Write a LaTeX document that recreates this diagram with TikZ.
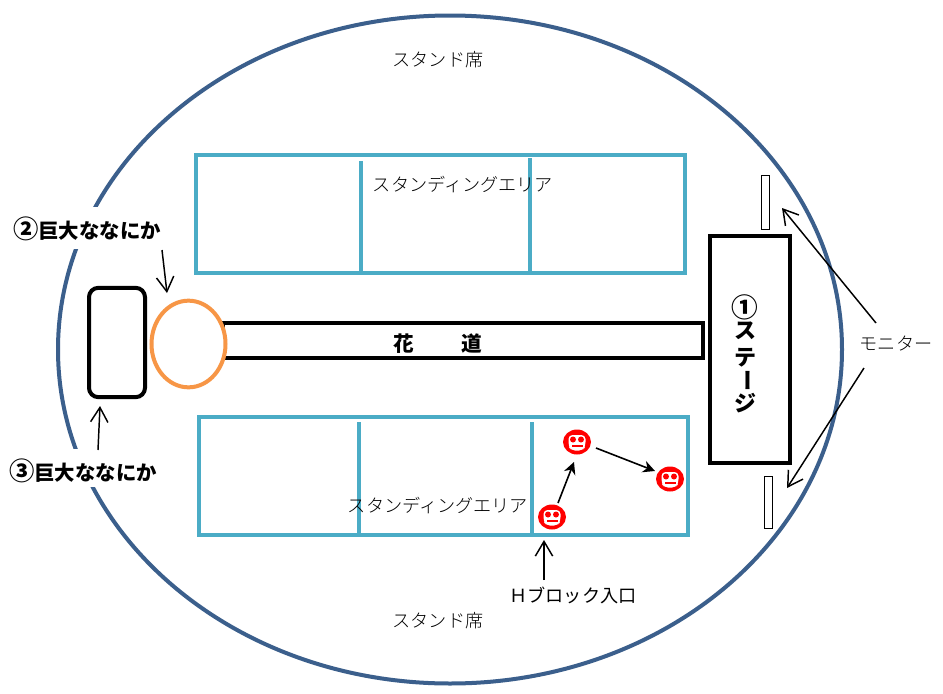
\documentclass[tikz,border=0pt]{standalone}
\usepackage{fontspec}
\setmainfont{Noto Sans CJK JP}
\newfontfamily\thinjp{Noto Sans CJK JP Light}
\usetikzlibrary{arrows.meta,shapes.geometric}
\definecolor{oval}{HTML}{3B5F8C}
\definecolor{teal2}{HTML}{4BACC6}
\definecolor{orng}{HTML}{F79646}
\newcommand{\pxfont}[1]{\fontsize{#1}{#1}\selectfont}
\newcommand{\bignum}[1]{{\pxfont{19}#1}}
\tikzset{
  x=0.75pt,y=-0.75pt,
  thinlabel/.style={inner sep=0pt,font=\thinjp\pxfont{13.6}},
  boldlabel/.style={inner sep=0pt,font=\pxfont{15.3}\bfseries},
  stagelabel/.style={inner sep=0pt,font=\pxfont{16.5}\bfseries},
  field/.style={draw=teal2,line width=3pt,miter limit=10},
  heavy/.style={draw=black,line width=3pt},
  openarrow/.style={draw=black,line width=1.1pt,-{Straight Barb[length=11pt,width=13pt,line width=1.1pt]}},
  walk/.style={draw=black,line width=1.2pt,-{Stealth[length=9pt,width=9pt]}},
  monitor/.style={draw=black,line width=0.6pt,fill=white,inner sep=0pt},
  face/.pic={
    \fill[red] (0,0) ellipse [x radius=14,y radius=12.5];
    \fill[white,rounded corners=3pt] (-8.5,-7) -- (8.5,-7) -- (8.5,4) -- (6,8.5) -- (-6,8.5) -- (-8.5,4) -- cycle;
    \fill[red] (-5.5,2.5) rectangle (5.5,5);
    \fill[red] (-4,-2.5) circle [radius=3] (4,-2.5) circle [radius=3];
  }
}
\begin{document}
\begin{tikzpicture}
\useasboundingbox (0,0) rectangle (943,693);
\fill[white] (0,0) rectangle (943,693);
\draw[oval,line width=3pt] (450,349.5) ellipse [x radius=392,y radius=334];
\fill[white] (8,207) rectangle (166,249);
\fill[white] (4,449) rectangle (160,487);
\node[boldlabel] (l2) at (87,229) {\bignum{②}巨大ななにか};
\node[boldlabel] (l3) at (83,471) {\bignum{③}巨大ななにか};
\node[thinlabel] (s1) at (438,60) {スタンド席};
\node[thinlabel] (s2) at (438,621) {スタンド席};
% standing areas
\draw[field] (196,155) rectangle (685,273);
\draw[field] (361,161) -- (361,273);
\draw[field] (530,158) -- (530,273);
\draw[field] (199,417) rectangle (688,535);
\draw[field] (359,422) -- (359,535);
\draw[field] (532,422) -- (532,535);
\node[thinlabel] (a1) at (463,184) {スタンディングエリア};
\node[thinlabel] (a2) at (438,505) {スタンディングエリア};
% runway, stage
\node[heavy,minimum width=360pt,minimum height=26pt,inner sep=0pt] (run) at (463,340.5) {};
\node[boldlabel,font=\pxfont{15.5}\bfseries] (h1) at (404,344) {花};
\node[boldlabel,font=\pxfont{15.5}\bfseries] (h2) at (472,344) {道};
\node[heavy,fill=white,minimum width=60pt,minimum height=170pt,inner sep=0pt] (stage) at (750,349.5) {};
\node[stagelabel,font=\pxfont{20}\bfseries] at (745,307) {①};
\node[stagelabel] at (745,331) {ス};
\node[stagelabel] at (745,358) {テ};
\node[stagelabel,rotate=-90] at (745,380) {ー};
\node[stagelabel] at (745,403) {ジ};
% objects on left
\node[heavy,rounded corners=7pt,minimum width=42pt,minimum height=82pt,inner sep=0pt] (box) at (117,342.5) {};
\node[draw=orng,fill=white,line width=3pt,ellipse,minimum width=55.5pt,minimum height=65pt,inner sep=0pt] (orb) at (188.5,344) {};
% monitors
\node[monitor,minimum width=5.5pt,minimum height=40pt] (m1) at (765.5,202.5) {};
\node[monitor,minimum width=6.5pt,minimum height=39pt] (m2) at (768.5,502) {};
\node[thinlabel] (mon) at (896,344) {モニター};
% arrows
\coordinate (m1t) at (782,208);
\coordinate (m2t) at (787,488);
\coordinate (m1f) at (876,323);
\coordinate (m2f) at (864,368);
\draw[openarrow] (m1f) -- (m1t);
\draw[openarrow] (m2f) -- (m2t);
\coordinate (a2f) at (162,250);
\coordinate (a2t) at (167,293);
\draw[openarrow] (a2f) -- (a2t);
\coordinate (a3f) at (98,450);
\coordinate (a3t) at (100,406);
\draw[openarrow] (a3f) -- (a3t);
\node[thinlabel,font=\pxfont{13.6}] (hb) at (573,595) {Ｈブロック入口};
\coordinate (ht) at (544,540);
\draw[openarrow] (544,580) -- (ht);
% faces
\path (577,442) pic {face};
\path (670,479) pic {face};
\path (552,517) pic {face};
\coordinate (f1) at (558,503);
\coordinate (f1t) at (574,462);
\coordinate (f2) at (596,448);
\coordinate (f2t) at (655,471);
\draw[walk] (f1) -- (f1t);
\draw[walk] (f2) -- (f2t);
\end{tikzpicture}
\end{document}
